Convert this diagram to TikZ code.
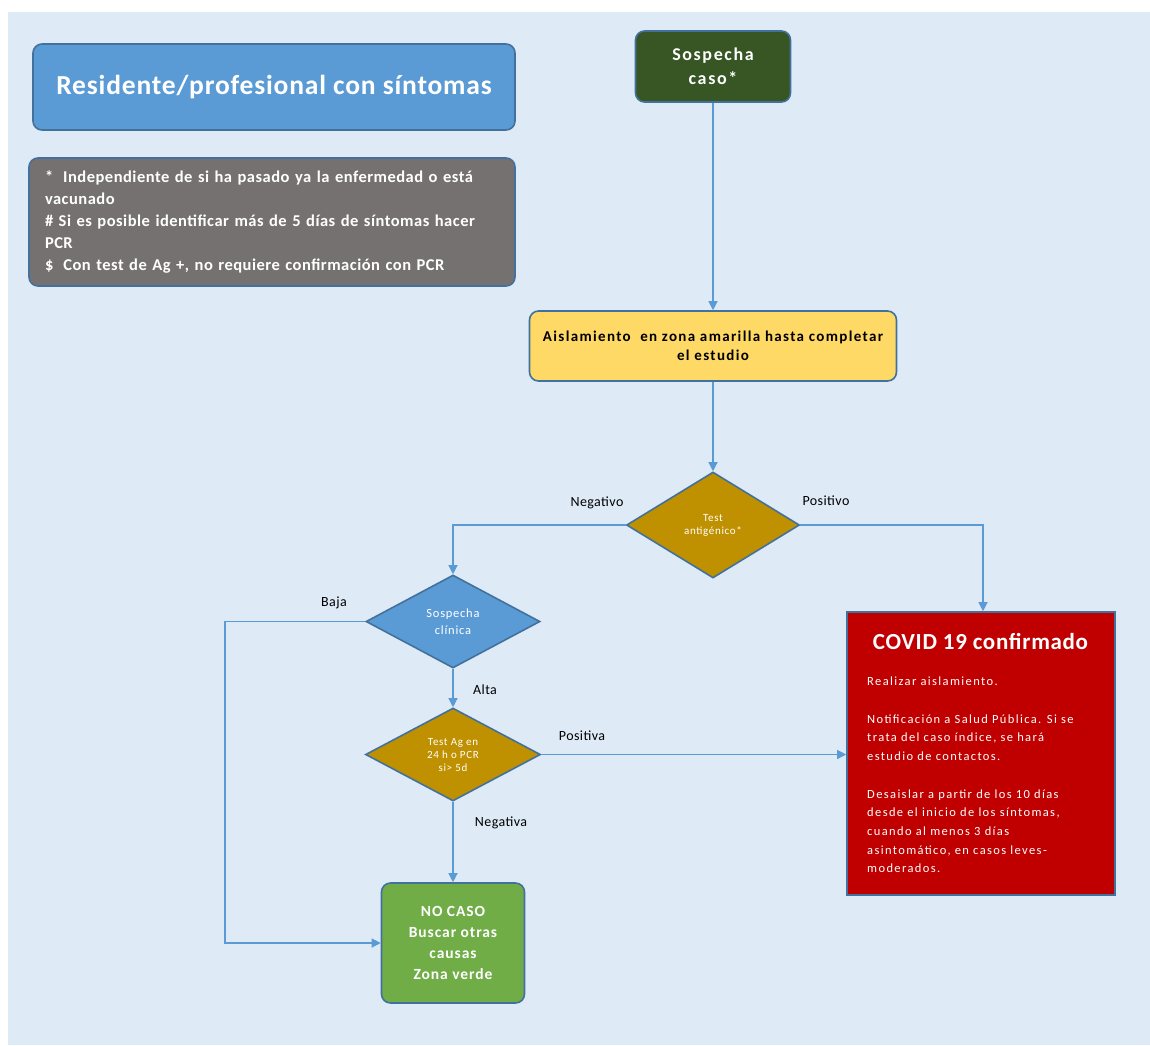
\documentclass[tikz,border=0pt]{standalone}
\usepackage{fontspec}
\setmainfont{Carlito}
\newfontfamily\spacedfont[LetterSpace=6]{Carlito}
\newfontfamily\spacedA[LetterSpace=3]{Carlito}
\newfontfamily\spacedB[LetterSpace=9]{Carlito}
\newfontfamily\spacedC[LetterSpace=11]{Carlito}
\usetikzlibrary{shapes.geometric,arrows.meta}
\definecolor{bgblue}{HTML}{DEEAF6}
\definecolor{midblue}{HTML}{5B9BD5}
\definecolor{edgeblue}{HTML}{41719C}
\definecolor{darkgreen}{HTML}{375623}
\definecolor{lightgreen}{HTML}{70AD47}
\definecolor{ochre}{HTML}{BF9000}
\definecolor{yellowbox}{HTML}{FFD966}
\definecolor{graybox}{HTML}{767171}
\definecolor{redbox}{HTML}{C00000}
\tikzset{
  box/.style={draw=edgeblue, line width=1.6pt, rounded corners=9pt, align=center, inner sep=0pt},
  dia/.style={diamond, draw=edgeblue, line width=1.6pt, inner sep=0pt, text=white, align=center, font=\spacedfont\fontsize{11}{13}\selectfont},
  conn/.style={draw=midblue, line width=1.2pt, -{Triangle[length=9pt,width=9pt]}},
  lbl/.style={font=\spacedA\fontsize{14}{16}\selectfont, inner sep=0pt}
}
\begin{document}
\begin{tikzpicture}[x=1pt,y=-1pt]
\useasboundingbox (0,0) rectangle (1150,1045);
\fill[white] (0,0) rectangle (1150,1045);
\fill[bgblue] (8,12) rectangle (1150,1045);

\node[box, fill=midblue, minimum width=482pt, minimum height=86pt, text=white,
  font=\spacedA\bfseries\fontsize{27.5}{30}\selectfont] (title) at (274,87) {Residente/profesional con síntomas};

\node[box, fill=graybox, minimum width=486pt, minimum height=128pt, text=white, align=left,
  text width=454pt, font=\spacedA\bfseries\fontsize{16.5}{21.8}\selectfont] (notes) at (272,222)
  {*\hspace{10pt}Independiente de si ha pasado ya la enfermedad o está\\
   vacunado\\
   \# Si es posible identificar más de 5 días de síntomas hacer\\
   PCR\\
   \$\hspace{10pt}Con test de Ag +, no requiere confirmación con PCR};

\node[box, fill=darkgreen, minimum width=155pt, minimum height=71pt, text=white,
  font=\spacedB\bfseries\fontsize{18}{24}\selectfont] (sc) at (713,66.5) {Sospecha\\caso*};

\node[box, fill=yellowbox, minimum width=367pt, minimum height=70pt, text=black,
  font=\spacedB\bfseries\fontsize{15}{19.5}\selectfont] (ais) at (713,346)
  {Aislamiento\ \ en zona amarilla hasta completar\\el estudio};

\node[dia, fill=ochre, minimum width=173pt, minimum height=106pt] (ta) at (713,525)
  {Test\\antigénico*};

\node[dia, fill=midblue, minimum width=174pt, minimum height=93pt,
  font=\spacedfont\fontsize{12.5}{17}\selectfont] (cl) at (453,621.5) {Sospecha\\clínica};

\node[dia, fill=ochre, minimum width=175pt, minimum height=93pt] (tag) at (453,754.5)
  {Test Ag en\\24 h o PCR\\si> 5d};

\node[box, fill=lightgreen, minimum width=143pt, minimum height=120pt, text=white,
  font=\spacedfont\bfseries\fontsize{15.5}{21}\selectfont] (nc) at (453,943)
  {NO CASO\\Buscar otras\\causas\\Zona verde};

\node[draw=edgeblue, line width=1.6pt, fill=redbox, minimum width=268pt, minimum height=283pt,
  inner sep=0pt] (covid) at (981,753.5) {};
\node[text=white, font=\spacedA\bfseries\fontsize{23}{26}\selectfont, inner sep=0pt] (ctitle) at (980.5,641) {COVID 19 confirmado};
\node[text=white, anchor=north west, align=left, inner sep=0pt,
  font=\spacedC\fontsize{12.5}{18.7}\selectfont] (ctext) at (867,677)
  {Realizar aislamiento.\\[18.7pt]
   Notificación a Salud Pública. Si se\\
   trata del caso índice, se hará\\
   estudio de contactos.\\[18.7pt]
   Desaislar a partir de los 10 días\\
   desde el inicio de los síntomas,\\
   cuando al menos 3 días\\
   asintomático, en casos leves-\\
   moderados.};

\coordinate (bj) at (225,621.5);

\draw[conn] (sc.south) -- (ais.north);
\draw[conn] (ais.south) -- (ta.north);
\draw[conn] (ta.west) -| (cl.north);
\draw[conn] (ta.east) -| ([xshift=2pt]covid.north);
\draw[conn] (cl.west) -- (bj) |- (nc.west);
\draw[conn] (cl.south) -- (tag.north);
\draw[conn] (tag.east) -- (tag.east -| covid.west);
\draw[conn] (tag.south) -- (nc.north);

\node[lbl] (lneg) at (597,503) {Negativo};
\node[lbl] (lpos) at (826,501) {Positivo};
\node[lbl] (lbaja) at (334,603) {Baja};
\node[lbl] (lalta) at (485,690) {Alta};
\node[lbl] (lposa) at (582,736) {Positiva};
\node[lbl] (lnega) at (501,823) {Negativa};
\end{tikzpicture}
\end{document}
